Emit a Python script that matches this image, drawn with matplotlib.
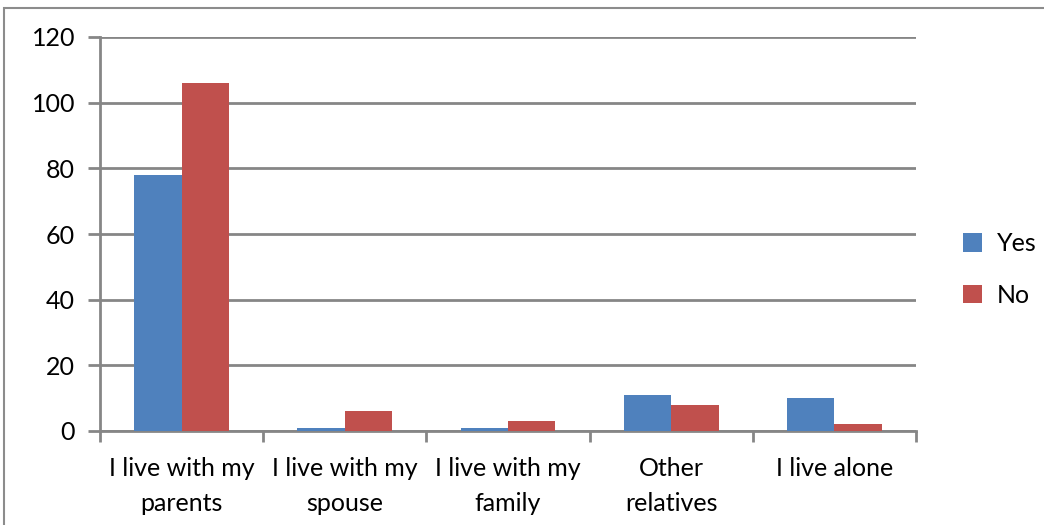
import matplotlib
matplotlib.use("Agg")
import matplotlib.pyplot as plt
import numpy as np
from matplotlib.patches import Rectangle

categories = ["I live with my\nparents", "I live with my\nspouse", "I live with my\nfamily",
              "Other\nrelatives", "I live alone"]
yes_values = [78, 1, 1, 11, 10]
no_values = [106, 6, 3, 8, 2]
series_names = ["Yes", "No"]
y_ticks = [0, 20, 40, 60, 80, 100, 120]

plt.rcParams["font.family"] = ["Lato", "DejaVu Sans"]

W, H = 1044, 525
fig = plt.figure(figsize=(W / 100, H / 100), dpi=100)
fig.patch.set_facecolor("white")

# outer chart frame
fig.patches.append(Rectangle((4 / W, -0.1), 1.2, (H - 8) / H + 0.1, transform=fig.transFigure,
                             fill=False, edgecolor="#8c8c8c", linewidth=1.5))

ax = fig.add_axes([100 / W, 94 / H, 816 / W, 394 / H])
grid_c = "#868686"

x = np.arange(len(categories))
bw = 0.29
ax.bar(x - bw / 2, yes_values, bw, color="#4F81BD", label=series_names[0], zorder=3)
ax.bar(x + bw / 2, no_values, bw, color="#C0504D", label=series_names[1], zorder=3)

ax.set_xlim(-0.5, len(categories) - 0.5)
ax.set_ylim(0, 120)
ax.set_yticks(y_ticks)
ax.yaxis.grid(True, color=grid_c, linewidth=2, zorder=0)
ax.set_axisbelow(True)

for s in ["top", "right"]:
    ax.spines[s].set_visible(False)
for s in ["left", "bottom"]:
    ax.spines[s].set_color(grid_c)
    ax.spines[s].set_linewidth(2)

ax.tick_params(axis="y", length=9, width=2, color=grid_c, labelsize=18, pad=9)
ax.set_xticks(np.arange(-0.5, len(categories), 1.0))
ax.tick_params(axis="x", which="major", length=8, width=2, color=grid_c, labelbottom=False)
ax.set_xticks(x, minor=True)
ax.set_xticklabels(categories, minor=True, fontsize=18, linespacing=1.6)
ax.tick_params(axis="x", which="minor", length=0, pad=19)

ax.legend(loc="center left", bbox_to_anchor=(1.03, 0.41), frameon=False, fontsize=18,
          handlelength=0.75, handleheight=0.75, labelspacing=1.15, handletextpad=0.6)

fig.savefig("out.png", dpi=100)
